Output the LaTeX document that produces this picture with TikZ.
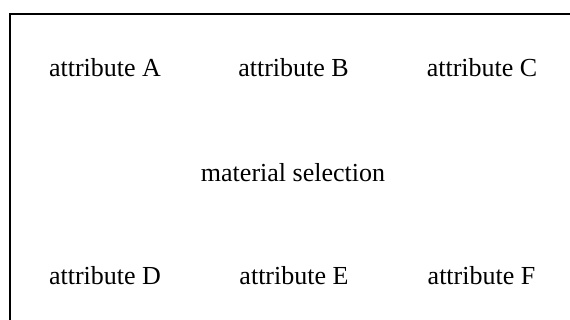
\documentclass[tikz,border=0pt]{standalone}
\usepackage{fontspec}
\setmainfont{Liberation Serif}
\begin{document}
\begin{tikzpicture}[x=1pt,y=1pt]
\tikzset{attr/.style={font=\fontsize{26}{30}\selectfont,anchor=base,inner sep=0pt}}
\useasboundingbox (0,0) rectangle (570,320);
\clip (0,0) rectangle (570,320);
\draw[line width=2pt] (10.3,-20) rectangle (600,305.7);

\node[attr] (attrA) at (105,243.3) {attribute A};
\node[attr] (attrB) at (293.5,243.3) {attribute B};
\node[attr] (attrC) at (482,243.3) {attribute C};

\node[attr] (sel) at (293,138.5) {material selection};

\node[attr] (attrD) at (105,35) {attribute D};
\node[attr] (attrE) at (294,35) {attribute E};
\node[attr] (attrF) at (481.5,35) {attribute F};
\end{tikzpicture}
\end{document}
